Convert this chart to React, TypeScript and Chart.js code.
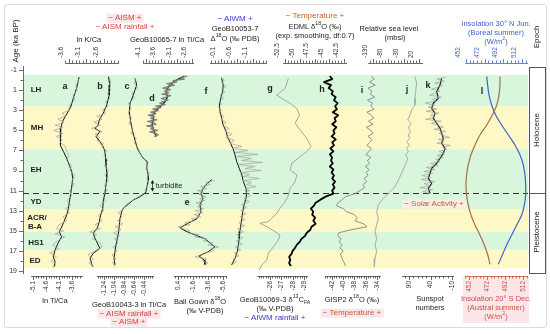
import React, { useEffect, useRef } from "react";
import { Chart, registerables } from "chart.js";
Chart.register(...registerables);

const FONT = '"Liberation Sans", Arial, Helvetica, sans-serif';
const W = 550, H = 334;
const PLOT_TOP = 63, PLOT_BOTTOM = 276;
const AGE_MIN = -1.7, AGE_MAX = 19.5;
const BG_TOP = 66, BG_BOTTOM = 273, BG_AGE_MIN = -1.4, BG_AGE_MAX = 19.2;
const BG_LEFT = 23, BG_RIGHT = 528;
const AXIS_H = 24;

// ---------- age axis & stages ----------
const ageTicks = [-1, 0, 1, 2, 3, 4, 5, 6, 7, 8, 9, 10, 11, 12, 13, 14, 15, 16, 17, 18, 19];
const ageLabels = [-1, 1, 3, 5, 7, 9, 11, 13, 15, 17, 19];
const bandStart = [-0.5, 2.6, 6.9, 12.85, 15.1, 16.9];
const bandEnd = [2.6, 6.9, 12.85, 15.1, 16.9, 18.75];
const bandKind = ["g", "y", "g", "y", "g", "y"];
const boundaryAge = 11.25;
const turbiditeAges = [9.95, 11.1];
const epochBox = [-1.3, 19.2];

// ---------- a: ln Ti/Ca (bottom) ----------
const aAge = [-0.3, 0.8, 1.8, 2.7, 3.5, 4.1, 4.8, 5.6, 6.5, 7.1, 7.8, 8.5, 9.1, 9.8, 10.4, 11.3, 12.1, 12.8, 13.4, 14.1, 14.8, 15.1, 15.6, 16.2, 16.9, 17.6, 18.1, 18.6];
const aVal = [-3.33, -3.42, -3.55, -3.65, -3.83, -3.96, -4.03, -4.06, -4.03, -3.93, -3.8, -3.7, -3.61, -3.57, -3.6, -3.65, -3.7, -3.74, -3.8, -3.91, -4.03, -4.09, -4.0, -4.13, -4.25, -4.32, -4.25, -4.29];
const aRawAge = [-0.3, 0.2, 0.6, 1.0, 1.5, 2.0, 2.5, 3.0, 3.3, 3.6, 3.9, 4.2, 4.5, 4.7, 5.0, 5.3, 5.6, 5.9, 6.2, 6.6, 7.0, 7.5, 8.0, 8.5, 9.0, 9.5, 10.0, 10.5, 11.0, 11.5, 12.0, 12.4, 12.8, 13.2, 13.6, 14.0, 14.4, 14.8, 15.0, 15.3, 15.6, 16.0, 16.4, 16.8, 17.2, 17.6, 18.0, 18.4, 18.6];
const aRawVal = [-3.3, -3.38, -3.45, -3.4, -3.55, -3.5, -3.7, -3.72, -3.98, -3.85, -4.15, -3.9, -4.25, -3.95, -4.3, -3.95, -4.2, -3.98, -4.05, -3.85, -3.82, -3.72, -3.8, -3.62, -3.68, -3.5, -3.6, -3.52, -3.7, -3.62, -3.8, -3.65, -3.85, -3.7, -3.95, -3.8, -4.1, -4.2, -3.92, -4.25, -3.88, -4.15, -4.35, -4.1, -4.45, -4.2, -4.4, -4.22, -4.35];

// ---------- b: ln K/Ca (top) ----------
const bAge = [-0.34, 0.49, 1.49, 2.48, 3.31, 3.97, 4.47, 4.8, 5.13, 5.63, 6.13, 6.63, 7.12, 7.79, 8.45, 9.11, 9.78, 10.44, 11.27, 12.1, 12.76, 13.43, 14.09, 14.75, 15.25, 15.75, 16.41, 16.74, 17.24, 17.74, 18.23, 18.57];
const bVal = [-2.47, -2.43, -2.45, -2.52, -2.62, -2.73, -2.76, -2.85, -2.71, -2.82, -2.71, -2.62, -2.57, -2.55, -2.54, -2.52, -2.52, -2.54, -2.57, -2.62, -2.63, -2.69, -2.73, -2.79, -2.9, -2.85, -2.76, -2.71, -2.9, -2.99, -2.95, -2.92];
const bRawAge = [-0.3, 0.2, 0.6, 1.0, 1.4, 1.8, 2.2, 2.6, 3.0, 3.3, 3.6, 3.9, 4.2, 4.5, 4.8, 5.1, 5.4, 5.7, 6.0, 6.3, 6.7, 7.0, 7.5, 8.0, 8.5, 9.0, 9.5, 10.0, 10.5, 11.0, 11.5, 12.0, 12.5, 13.0, 13.5, 14.0, 14.4, 14.8, 15.1, 15.4, 15.8, 16.2, 16.6, 17.0, 17.4, 17.8, 18.2, 18.6];
const bRawVal = [-2.45, -2.4, -2.48, -2.4, -2.5, -2.42, -2.55, -2.48, -2.65, -2.55, -2.8, -2.65, -2.88, -2.7, -2.95, -2.65, -2.85, -2.72, -2.8, -2.62, -2.66, -2.52, -2.6, -2.5, -2.58, -2.48, -2.56, -2.47, -2.58, -2.52, -2.62, -2.55, -2.7, -2.6, -2.75, -2.65, -2.85, -2.7, -3.0, -2.8, -2.92, -2.7, -2.65, -2.85, -3.05, -2.9, -3.02, -2.88];

// ---------- c: GeoB10043-3 ln Ti/Ca (bottom) ----------
const cAge = [-0.17, 0.49, 1.49, 2.31, 3.14, 4.14, 5.13, 5.96, 6.79, 7.29, 7.79, 8.12, 8.78, 9.45, 9.94, 10.44, 11.1, 11.27, 11.6, 11.93, 12.43, 12.76, 13.09, 13.76, 14.42, 15.08, 15.75, 16.41, 17.07, 17.74, 18.4];
const cVal = [-0.62, -0.586, -0.654, -0.72, -0.734, -0.706, -0.666, -0.62, -0.574, -0.52, -0.454, -0.374, -0.386, -0.354, -0.354, -0.374, -0.4, -0.42, -0.52, -0.654, -0.774, -0.854, -0.886, -0.92, -0.934, -0.946, -0.974, -1.0, -1.02, -1.04, -1.02];
const cRawAge = [-0.2, 0.3, 0.8, 1.3, 1.8, 2.3, 2.8, 3.3, 3.8, 4.3, 4.8, 5.3, 5.8, 6.3, 6.8, 7.3, 7.8, 8.3, 8.8, 9.3, 9.8, 10.3, 10.8, 11.2, 11.6, 12.0, 12.4, 12.8, 13.2, 13.6, 14.0, 14.3, 14.6, 14.9, 15.2, 15.5, 15.8, 16.2, 16.6, 17.0, 17.4, 17.8, 18.2, 18.6];
const cRawVal = [-0.6, -0.63, -0.57, -0.68, -0.63, -0.75, -0.7, -0.76, -0.69, -0.74, -0.66, -0.7, -0.6, -0.63, -0.55, -0.53, -0.44, -0.38, -0.4, -0.34, -0.37, -0.35, -0.4, -0.42, -0.55, -0.68, -0.8, -0.84, -0.95, -0.88, -0.97, -0.86, -1.02, -0.9, -1.05, -0.93, -1.03, -0.96, -1.06, -0.98, -1.08, -1.0, -1.07, -1.01];

// ---------- d: GeoB10065-7 ln Ti/Ca (top) ----------
const dAge = [-0.4, -0.01, 0.32, 0.66, 1.15, 1.65, 2.15, 2.48, 2.81, 3.14, 3.48, 3.97, 4.47, 4.97, 5.3, 5.63];
const dVal = [-2.85, -3.1, -3.26, -3.37, -3.45, -3.4, -3.48, -3.59, -3.7, -3.81, -3.88, -3.86, -3.91, -3.86, -3.81, -3.77];
const dRawAge = [-0.4, -0.25, -0.1, 0.05, 0.2, 0.35, 0.5, 0.65, 0.8, 0.95, 1.1, 1.25, 1.4, 1.55, 1.7, 1.85, 2.0, 2.15, 2.3, 2.45, 2.6, 2.75, 2.9, 3.05, 3.2, 3.35, 3.5, 3.65, 3.8, 3.95, 4.1, 4.25, 4.4, 4.55, 4.7, 4.85, 5.0, 5.15, 5.3, 5.45, 5.6];
const dRawVal = [-2.75, -3.0, -2.85, -3.22, -3.1, -3.42, -3.18, -3.38, -3.55, -3.3, -3.5, -3.36, -3.58, -3.3, -3.45, -3.6, -3.38, -3.55, -3.65, -3.48, -3.78, -3.62, -3.88, -3.7, -3.95, -3.78, -4.02, -3.82, -3.95, -3.75, -4.05, -3.85, -3.78, -4.08, -3.85, -3.95, -3.72, -3.98, -3.8, -3.7, -3.84];

// ---------- e: Bali Gown d18O (bottom) ----------
const eAge = [9.9, 10.3, 10.8, 11.3, 11.8, 12.4, 13.1, 13.8, 14.25, 14.7, 15.1, 15.4, 15.8, 16.2, 16.6, 17.1, 17.5, 17.9, 18.4];
const eVal = [-4.13, -3.47, -2.93, -2.67, -2.93, -2.53, -2.67, -2.13, -0.93, 0.13, -0.8, -1.87, -3.2, -3.87, -4.53, -3.6, -2.4, -3.07, -3.2];
const eRawAge = [10.0, 10.2, 10.4, 10.6, 10.8, 11.0, 11.2, 11.4, 11.6, 11.8, 12.0, 12.2, 12.4, 12.6, 12.8, 13.0, 13.2, 13.4, 13.6, 13.8, 14.0, 14.2, 14.4, 14.6, 14.8, 15.0, 15.2, 15.4, 15.6, 15.8, 16.0, 16.2, 16.4, 16.6, 16.8, 17.0, 17.2, 17.4, 17.6, 17.8, 18.0, 18.2, 18.4];
const eRawVal = [-4.5, -3.3, -3.9, -2.6, -3.4, -2.2, -3.0, -2.4, -3.3, -2.5, -3.2, -2.0, -2.9, -2.2, -3.0, -1.9, -2.9, -1.8, -2.6, -1.4, -1.9, -0.5, -1.2, 0.4, -0.3, -1.2, -0.8, -2.4, -1.8, -3.4, -3.0, -4.2, -3.6, -5.0, -4.1, -4.4, -3.2, -2.6, -1.9, -3.4, -2.8, -3.6, -3.0];

// ---------- f: GeoB10053-7 d18O (top) ----------
const fAge = [-0.17, 0.49, 1.15, 1.82, 2.48, 3.14, 3.81, 4.47, 5.13, 5.63, 6.29, 6.96, 7.46, 8.12, 8.78, 9.45, 10.11, 10.77, 11.27, 11.77, 12.43, 13.09, 13.76, 14.42, 15.08, 15.75, 16.41, 17.07, 17.74, 18.4];
const fVal = [-0.12, -0.17, -0.15, -0.09, -0.05, -0.07, -0.12, -0.17, -0.26, -0.3, -0.4, -0.49, -0.54, -0.59, -0.67, -0.75, -0.8, -0.88, -0.9, -0.88, -0.82, -0.78, -0.75, -0.72, -0.69, -0.67, -0.64, -0.61, -0.54, -0.43];
const fRawAge = [-0.3, 0.0, 0.3, 0.6, 0.9, 1.2, 1.5, 1.8, 2.1, 2.4, 2.7, 3.0, 3.3, 3.6, 3.9, 4.2, 4.5, 4.8, 5.1, 5.4, 5.7, 6.0, 6.3, 6.6, 6.8, 7.0, 7.2, 7.4, 7.6, 7.8, 8.0, 8.2, 8.4, 8.6, 8.8, 9.0, 9.2, 9.4, 9.6, 9.8, 10.0, 10.2, 10.4, 10.6, 10.8, 11.0, 11.2, 11.5, 11.8, 12.1, 12.4, 12.7, 13.0, 13.3, 13.6, 13.9, 14.2, 14.5, 14.8, 15.1, 15.4, 15.7, 16.0, 16.3, 16.6, 16.9, 17.2, 17.5, 17.8, 18.1, 18.4];
const fRawVal = [-0.1, -0.2, -0.12, -0.26, -0.15, -0.22, -0.08, -0.18, -0.04, -0.12, -0.02, -0.1, -0.05, -0.2, -0.1, -0.26, -0.14, -0.35, -0.22, -0.45, -0.25, -0.52, -0.38, -0.75, -0.45, -0.95, -0.55, -1.25, -0.6, -1.05, -0.75, -1.4, -0.62, -1.15, -0.85, -1.35, -0.7, -1.0, -0.8, -1.3, -0.78, -1.05, -0.9, -1.2, -0.85, -1.0, -0.88, -1.02, -0.82, -0.98, -0.74, -0.9, -0.72, -0.88, -0.7, -0.85, -0.66, -0.84, -0.62, -0.8, -0.6, -0.78, -0.58, -0.76, -0.55, -0.72, -0.52, -0.66, -0.48, -0.58, -0.42];

// ---------- g: GeoB10069-3 d13C (bottom) ----------
const gAge = [-0.17, 0.82, 1.49, 1.82, 2.31, 2.81, 3.48, 4.3, 4.97, 5.8, 6.63, 7.12, 7.62, 8.28, 8.95, 9.45, 10.11, 10.77, 11.44, 12.1, 12.76, 13.26, 13.76, 14.09, 14.25, 14.59, 15.08, 15.42, 15.91, 16.58, 17.24, 17.9, 18.4, 18.9];
const gVal = [-27.62, -27.33, -26.59, -27.03, -27.77, -28.36, -28.6, -28.21, -28.65, -29.24, -29.6, -29.24, -28.65, -27.92, -27.77, -28.36, -28.21, -27.77, -27.62, -27.33, -26.88, -26.59, -26.15, -25.85, -25.12, -25.71, -26.44, -26.88, -26.74, -26.3, -25.85, -25.71, -25.27, -25.05];

// ---------- h: EDML d18O (top) ----------
const hAge = [-0.4, -0.1, 0.2, 0.5, 0.8, 1.1, 1.4, 1.7, 2.0, 2.3, 2.6, 2.9, 3.2, 3.5, 3.8, 4.1, 4.4, 4.7, 5.0, 5.3, 5.6, 5.9, 6.2, 6.5, 6.8, 7.1, 7.4, 7.7, 8.0, 8.3, 8.6, 8.9, 9.2, 9.5, 9.8, 10.1, 10.4, 10.7, 11.0, 11.3, 11.6, 11.9, 12.2, 12.5, 12.8, 13.1, 13.4, 13.7, 14.0, 14.3, 14.6, 14.9, 15.2, 15.5, 15.8, 16.1, 16.4, 16.7, 17.0, 17.3, 17.6, 17.9, 18.2, 18.5];
const hVal = [-44.9, -44.5, -45.9, -44.7, -45.1, -44.4, -44.6, -43.9, -44.2, -43.6, -44.0, -43.7, -44.4, -43.5, -44.1, -43.9, -44.5, -43.8, -44.3, -44.1, -44.6, -43.9, -44.5, -44.2, -44.8, -44.3, -44.9, -44.5, -44.7, -44.4, -44.9, -44.3, -44.6, -44.2, -44.5, -44.0, -44.4, -44.1, -44.5, -44.3, -45.6, -46.5, -47.3, -47.6, -48.1, -47.7, -47.9, -47.4, -47.7, -47.3, -48.0, -48.2, -48.8, -49.1, -49.7, -50.0, -50.5, -50.8, -51.2, -51.4, -51.8, -51.6, -51.8, -51.5];

// ---------- i: GISP2 d18O (bottom) ----------
const iAge = hAge;
const iVal = [-35.0, -34.5, -35.3, -34.3, -35.6, -34.9, -35.2, -34.4, -35.7, -34.8, -35.1, -34.5, -35.8, -35.0, -34.6, -35.5, -34.7, -35.9, -35.1, -34.7, -35.6, -34.9, -35.3, -35.8, -35.0, -35.4, -36.0, -35.1, -35.7, -35.3, -36.1, -35.4, -35.9, -35.6, -36.3, -35.8, -36.5, -36.2, -37.0, -37.9, -39.6, -40.2, -40.9, -41.2, -40.0, -39.4, -38.0, -37.5, -37.9, -36.4, -35.8, -38.6, -40.8, -41.0, -40.4, -40.7, -40.2, -40.6, -40.0, -40.5, -40.3, -40.1, -39.8, -39.6];

// ---------- j: relative sea level (top) ----------
const jAge = [-0.34, 0.32, 1.15, 1.82, 2.48, 2.98, 3.48, 3.97, 4.3, 4.8, 5.13, 5.47, 5.8, 6.13, 6.46, 6.79, 7.12, 7.46, 7.79, 8.12, 8.62, 9.28, 9.94, 10.61, 11.27, 11.77, 12.43, 13.09, 13.76, 14.42, 15.08, 15.75, 16.41, 17.07, 17.74, 18.57];
const jVal = [6.9, 12.4, 9.1, 6.9, 6.9, -3.9, -9.4, -17, -6.1, -14.8, -7.2, -14.8, -10.4, -20.2, -11.5, -20.2, -14.8, -23.5, -17, -20.2, -27.8, -36.5, -47.4, -58.3, -80, -96.3, -112.6, -118, -112.6, -118, -123.5, -118, -123.5, -118, -123.5, -125.7];

// ---------- k: sunspot numbers (bottom) ----------
const kAge = [-0.17, 0.49, 1.15, 1.82, 2.31, 2.81, 3.31, 3.81, 4.3, 4.8, 5.3, 5.8, 6.29, 6.79, 7.29, 7.79, 8.28, 8.78, 9.28, 9.78, 10.27, 10.77, 11.27];
const kVal = [14, 17.9, 25.6, 21.9, 33.5, 37.2, 29.5, 33.5, 25.6, 17.9, 14, 10.2, 14, 6.3, 10.2, 17.9, 25.6, 37.2, 41.2, 45.1, 37.2, 45.1, 41.2];
const kRawAge = [-0.3, -0.1, 0.1, 0.3, 0.5, 0.7, 0.9, 1.1, 1.3, 1.5, 1.7, 1.9, 2.1, 2.3, 2.5, 2.7, 2.9, 3.1, 3.3, 3.5, 3.7, 3.9, 4.1, 4.3, 4.5, 4.7, 4.9, 5.1, 5.3, 5.5, 5.7, 5.9, 6.1, 6.3, 6.5, 6.7, 6.9, 7.1, 7.3, 7.5, 7.7, 7.9, 8.1, 8.3, 8.5, 8.7, 8.9, 9.1, 9.3, 9.5, 9.7, 9.9, 10.1, 10.3, 10.5, 10.7, 10.9, 11.1, 11.3];
const kRawVal = [5, 25, 8, 30, 12, 22, 38, 18, 30, 42, 15, 35, 28, 52, 30, 45, 25, 50, 20, 40, 30, 52, 15, 38, 22, 10, 32, 5, 20, 12, -4, 22, 8, 25, -6, 12, 2, 20, 8, 25, 10, 28, 18, 40, 22, 50, 30, 55, 35, 60, 40, 62, 30, 55, 42, 65, 35, 58, 40];

// ---------- l: insolation ----------
const lAge = [-0.34, 0.49, 1.49, 2.48, 3.48, 4.47, 5.47, 6.46, 7.46, 8.45, 9.45, 10.44, 11.44, 12.43, 13.43, 14.42, 15.42, 16.41, 17.41, 18.33];
const insN30Jun = [474.2, 475.2, 476.7, 479.5, 483.8, 490.2, 497.4, 504.5, 509.9, 513.4, 515.2, 515.9, 515.9, 514.5, 511.7, 506.3, 501.0, 495.6, 490.9, 486.6];
const insS20Dec = [486.4, 486.4, 485.3, 482.8, 477.9, 471.7, 464.2, 458.7, 454.2, 451.2, 449.4, 448.7, 449.4, 451.2, 454.2, 458.7, 464.2, 469.0, 472.9, 475.3];

// ---------- tick labels ----------
const kcaTicks = [-3.6, -3.1, -2.6];
const g65Ticks = [-4.1, -3.6, -3.1, -2.6];
const g53Ticks = [-0.1, -0.6, -1.1];
const edmlTicks = [-52.5, -50, -47.5, -45, -42.5];
const rslTicks = [-130, -80, -30, 20];
const insTicks = [452, 472, 492, 512];
const ticaTicks = [-5.1, -4.6, -4.1, -3.6];
const g43Ticks = [-1.24, -1.04, -0.84, -0.64, -0.44];
const baliTicks = [0.4, -1.6, -3.6, -5.6];
const g69Ticks = [-26, -27, -28, -29];
const gispTicks = [-42, -40, -38, -36, -34];
const sunTicks = [90, 40, -10];

const BLACK = "#111";
const GRAY = "#a0a0a0";
const AX = "#444";
const RED = "#d2453c";
const BLUE = "#3a3ac8";
const TEMP = "#c4622d";
const INS_BLUE = "#3f63c9";
const INS_RED = "#c9503f";
const PINK = "#fde6ea";

type Ser = { ages: number[]; vals: number[]; color: string; width: number; tension?: number };
type Panel = {
  pos: "top" | "bottom"; left: number; right: number; min: number; max: number; reverse?: boolean;
  majors: number[]; step: number; axisColor: string; labelColor: string; series: Ser[];
};

const panels: Panel[] = [
  { pos: "bottom", left: 31, right: 82, min: -5.177, max: -3.215, majors: ticaTicks, step: 0.1, axisColor: AX, labelColor: "#333",
    series: [{ ages: aRawAge, vals: aRawVal, color: GRAY, width: 0.7 }, { ages: aAge, vals: aVal, color: BLACK, width: 1 }] },
  { pos: "top", left: 65, right: 118, min: -3.7, max: -2.2, majors: kcaTicks, step: 0.1, axisColor: AX, labelColor: "#333",
    series: [{ ages: bRawAge, vals: bRawVal, color: GRAY, width: 0.7 }, { ages: bAge, vals: bVal, color: BLACK, width: 1 }] },
  { pos: "bottom", left: 97, right: 153, min: -1.38, max: -0.26, majors: g43Ticks, step: 0.04, axisColor: AX, labelColor: "#333",
    series: [{ ages: cRawAge, vals: cRawVal, color: GRAY, width: 0.7 }, { ages: cAge, vals: cVal, color: BLACK, width: 1 }] },
  { pos: "top", left: 143, right: 193, min: -4.2, max: -2.57, majors: g65Ticks, step: 0.1, axisColor: AX, labelColor: "#333",
    series: [{ ages: dRawAge, vals: dRawVal, color: "#808080", width: 1.3 }, { ages: dAge, vals: dVal, color: BLACK, width: 1.3 }] },
  { pos: "bottom", left: 174, right: 226, min: -6.0, max: 0.933, reverse: true, majors: baliTicks, step: 0.4, axisColor: AX, labelColor: "#333",
    series: [{ ages: eRawAge, vals: eRawVal, color: GRAY, width: 0.7 }, { ages: eAge, vals: eVal, color: BLACK, width: 1 }] },
  { pos: "top", left: 210, right: 266, min: -1.506, max: 0.244, reverse: true, majors: g53Ticks, step: 0.1, axisColor: AX, labelColor: "#333",
    series: [{ ages: fRawAge, vals: fRawVal, color: GRAY, width: 0.7 }, { ages: fAge, vals: fVal, color: BLACK, width: 1 }] },
  { pos: "bottom", left: 257, right: 307, min: -29.26, max: -24.85, reverse: true, majors: g69Ticks, step: 0.2, axisColor: AX, labelColor: "#333",
    series: [{ ages: gAge, vals: gVal, color: "#a4a4a4", width: 1 }] },
  { pos: "top", left: 283, right: 346, min: -52.84, max: -42.16, majors: edmlTicks, step: 0.5, axisColor: AX, labelColor: "#333",
    series: [{ ages: hAge, vals: hVal, color: "#000", width: 1.8 }] },
  { pos: "bottom", left: 325, right: 380, min: -43.24, max: -33.47, majors: gispTicks, step: 0.4, axisColor: AX, labelColor: "#333",
    series: [{ ages: iAge, vals: iVal, color: "#8f8f8f", width: 1 }] },
  { pos: "top", left: 368, right: 422, min: -146.3, max: 29.8, majors: rslTicks, step: 10, axisColor: AX, labelColor: "#333",
    series: [{ ages: jAge, vals: jVal, color: "#a8a8a8", width: 1 }] },
  { pos: "bottom", left: 402, right: 453, min: -12.3, max: 106.3, reverse: true, majors: sunTicks, step: 10, axisColor: AX, labelColor: "#333",
    series: [{ ages: kRawAge, vals: kRawVal, color: GRAY, width: 0.7 }, { ages: kAge, vals: kVal, color: BLACK, width: 1.2 }] },
  { pos: "top", left: 465, right: 527, min: 450.93, max: 517.36, majors: insTicks, step: 4, axisColor: INS_BLUE, labelColor: INS_BLUE,
    series: [{ ages: lAge, vals: insN30Jun, color: INS_BLUE, width: 1.2, tension: 0.4 }] },
  { pos: "bottom", left: 465, right: 527, min: 447.6, max: 516.4, majors: insTicks, step: 4, axisColor: INS_RED, labelColor: INS_RED,
    series: [{ ages: lAge, vals: insS20Dec, color: "#a8703f", width: 1.2, tension: 0.4 }] },
];

function buildTicks(p: Panel): number[] {
  const out: number[] = [];
  const base = p.majors[0];
  const lo = Math.min(p.min, p.max), hi = Math.max(p.min, p.max);
  const nLo = Math.ceil((lo - base) / p.step - 1e-9);
  const nHi = Math.floor((hi - base) / p.step + 1e-9);
  for (let k = nLo; k <= nHi; k++) out.push(Math.round((base + k * p.step) * 1e6) / 1e6);
  return out;
}

const canvasStyle: React.CSSProperties = { position: "absolute", left: 0, top: 0, width: W, height: H };

function PanelChart({ p }: { p: Panel }) {
  const ref = useRef<HTMLCanvasElement>(null);
  useEffect(() => {
    const ticks = buildTicks(p);
    const findMajor = (v: number) => p.majors.find((m) => Math.abs(m - v) < 1e-6);
    const tickPlugin = {
      id: "tickmarks",
      afterDraw(chart: any) {
        const s = chart.scales.x;
        const ctx = chart.ctx;
        const y0 = p.pos === "top" ? chart.chartArea.top : chart.chartArea.bottom;
        const dir = p.pos === "top" ? -1 : 1;
        ctx.save();
        ctx.strokeStyle = p.axisColor;
        ctx.lineWidth = 0.8;
        for (const v of ticks) {
          const x = Math.round(s.getPixelForValue(v)) + 0.5;
          const len = findMajor(v) !== undefined ? 4 : 2.5;
          ctx.beginPath();
          ctx.moveTo(x, y0);
          ctx.lineTo(x, y0 + dir * len);
          ctx.stroke();
        }
        ctx.restore();
      },
    };
    const chart = new Chart(ref.current as HTMLCanvasElement, {
      type: "scatter",
      data: {
        datasets: p.series.map((s) => ({
          data: s.ages.map((a, i) => ({ x: s.vals[i], y: a })),
          showLine: true,
          borderColor: s.color,
          backgroundColor: s.color,
          borderWidth: s.width,
          borderJoinStyle: "round",
          pointRadius: 0,
          tension: s.tension || 0,
          clip: false as any,
        })),
      },
      options: {
        animation: false,
        responsive: false,
        devicePixelRatio: 1,
        events: [],
        plugins: { legend: { display: false }, tooltip: { enabled: false } },
        layout: {
          padding: {
            left: p.left,
            right: W - p.right,
            top: p.pos === "top" ? PLOT_TOP - AXIS_H : PLOT_TOP,
            bottom: p.pos === "bottom" ? H - PLOT_BOTTOM - AXIS_H : H - PLOT_BOTTOM,
          },
        },
        scales: {
          x: {
            type: "linear",
            position: p.pos,
            min: p.min,
            max: p.max,
            reverse: !!p.reverse,
            afterBuildTicks: (s: any) => { s.ticks = ticks.map((v) => ({ value: v })); },
            afterFit: (s: any) => { s.height = AXIS_H; },
            ticks: {
              autoSkip: false,
              minRotation: 90,
              maxRotation: 90,
              padding: 1,
              color: p.labelColor,
              font: { size: 6.5, family: FONT },
              callback: (v: any) => { const m = findMajor(Number(v)); return m === undefined ? "" : String(m); },
            },
            grid: { drawOnChartArea: false, drawTicks: true, tickLength: 4, color: "rgba(0,0,0,0)" },
            border: { display: true, color: p.axisColor, width: 0.8 },
          },
          y: { type: "linear", display: false, min: AGE_MIN, max: AGE_MAX, reverse: true },
        },
      } as any,
      plugins: [tickPlugin],
    });
    return () => chart.destroy();
  }, []);
  return <canvas ref={ref} width={W} height={H} style={canvasStyle} />;
}

function BackgroundChart() {
  const ref = useRef<HTMLCanvasElement>(null);
  useEffect(() => {
    const bgPlugin = {
      id: "bg",
      beforeDraw(chart: any) {
        const { ctx, chartArea: ca, scales } = chart;
        const y = scales.y;
        ctx.save();
        for (let i = 0; i < bandStart.length; i++) {
          const y1 = y.getPixelForValue(bandStart[i]);
          const y2 = y.getPixelForValue(bandEnd[i]);
          ctx.fillStyle = bandKind[i] === "g" ? "#d8f6dc" : "#fdf8c6";
          ctx.fillRect(ca.left + 1, y1, ca.right - ca.left - 1, y2 - y1);
        }
        ctx.restore();
      },
      afterDraw(chart: any) {
        const { ctx, chartArea: ca, scales } = chart;
        const y = scales.y;
        ctx.save();
        ctx.strokeStyle = "#444";
        ctx.lineWidth = 0.8;
        for (const v of ageTicks) {
          const py = Math.round(y.getPixelForValue(v)) + 0.5;
          const len = ageLabels.includes(v) ? 4 : 2.5;
          ctx.beginPath();
          ctx.moveTo(ca.left, py);
          ctx.lineTo(ca.left - len, py);
          ctx.stroke();
        }
        const by = Math.round(y.getPixelForValue(boundaryAge)) + 0.5;
        ctx.strokeStyle = "#333";
        ctx.lineWidth = 1;
        ctx.setLineDash([6, 4]);
        ctx.beginPath();
        ctx.moveTo(ca.left, by);
        ctx.lineTo(ca.right, by);
        ctx.stroke();
        ctx.setLineDash([]);
        const ty = y.getPixelForValue(epochBox[0]);
        const bb = y.getPixelForValue(epochBox[1]);
        ctx.strokeStyle = "#555";
        ctx.strokeRect(ca.right + 1.5, Math.round(ty) + 0.5, 16, Math.round(bb - ty));
        ctx.beginPath();
        ctx.moveTo(ca.right + 1.5, by);
        ctx.lineTo(ca.right + 17.5, by);
        ctx.stroke();
        const ax = 152.5;
        const a1 = y.getPixelForValue(turbiditeAges[0]);
        const a2 = y.getPixelForValue(turbiditeAges[1]);
        ctx.strokeStyle = "#222";
        ctx.fillStyle = "#222";
        ctx.lineWidth = 0.8;
        ctx.beginPath();
        ctx.moveTo(ax, a1 + 2);
        ctx.lineTo(ax, a2 - 2);
        ctx.stroke();
        ctx.beginPath();
        ctx.moveTo(ax, a1); ctx.lineTo(ax - 2, a1 + 3.5); ctx.lineTo(ax + 2, a1 + 3.5); ctx.closePath(); ctx.fill();
        ctx.beginPath();
        ctx.moveTo(ax, a2); ctx.lineTo(ax - 2, a2 - 3.5); ctx.lineTo(ax + 2, a2 - 3.5); ctx.closePath(); ctx.fill();
        ctx.restore();
      },
    };
    const chart = new Chart(ref.current as HTMLCanvasElement, {
      type: "scatter",
      data: { datasets: [] },
      options: {
        animation: false,
        responsive: false,
        devicePixelRatio: 1,
        events: [],
        plugins: { legend: { display: false }, tooltip: { enabled: false } },
        layout: { padding: { left: BG_LEFT - 15, right: W - BG_RIGHT, top: BG_TOP, bottom: H - BG_BOTTOM } },
        scales: {
          x: { type: "linear", display: false, min: 0, max: 1 },
          y: {
            type: "linear",
            position: "left",
            min: BG_AGE_MIN,
            max: BG_AGE_MAX,
            reverse: true,
            afterBuildTicks: (s: any) => { s.ticks = ageTicks.map((v) => ({ value: v })); },
            afterFit: (s: any) => { s.width = 15; },
            ticks: {
              autoSkip: false,
              padding: 2,
              color: "#333",
              font: { size: 7, family: FONT },
              callback: (v: any) => (ageLabels.includes(Number(v)) ? String(v) : ""),
            },
            grid: { drawOnChartArea: false, drawTicks: true, tickLength: 4, color: "rgba(0,0,0,0)" },
            border: { display: true, color: "#444", width: 0.8 },
          },
        },
      } as any,
      plugins: [bgPlugin],
    });
    return () => chart.destroy();
  }, []);
  return <canvas ref={ref} width={W} height={H} style={canvasStyle} />;
}

function T(props: { x: number; y: number; children: React.ReactNode; color?: string; size?: number; bold?: boolean; bg?: string; rot?: boolean }) {
  const { x, y, children, color = "#222", size = 7.5, bold = false, bg, rot = false } = props;
  return (
    <div
      style={{
        position: "absolute", left: x, top: y,
        transform: `translate(-50%, -50%)${rot ? " rotate(-90deg)" : ""}`,
        whiteSpace: "nowrap", fontFamily: FONT, fontSize: size, color,
        fontWeight: bold ? 700 : 400, background: bg, lineHeight: 1.1, padding: bg ? "0 2px" : 0,
      }}
    >
      {children}
    </div>
  );
}

const sup = (s: string) => <sup style={{ fontSize: "0.7em", verticalAlign: "super", lineHeight: 0 }}>{s}</sup>;
const sub = (s: string) => <sub style={{ fontSize: "0.7em", verticalAlign: "sub", lineHeight: 0 }}>{s}</sub>;

export default function App() {
  return (
    <div style={{ position: "absolute", left: 0, top: 0, width: W, height: H, background: "#fff", overflow: "hidden" }}>
      <div style={{ position: "absolute", left: 4, top: 4, width: 541, height: 322, border: "1px solid #dcdcdc", borderRadius: 3 }} />
      <div style={{ position: "absolute", left: 463, top: 277, width: 66, height: 46, background: PINK }} />
      <BackgroundChart />
      {panels.map((p, i) => <PanelChart key={i} p={p} />)}

      <T x={16} y={41} rot size={8}>Age (ka BP)</T>
      <T x={537} y={37} rot size={8}>Epoch</T>
      <T x={537} y={130} rot size={8}>Holocene</T>
      <T x={537} y={232} rot size={8}>Pleistocene</T>

      <T x={125} y={18} color={RED} size={8} bg={PINK}>− AISM +</T>
      <T x={125} y={27} color={RED} size={8}>− AISM rainfall +</T>
      <T x={89} y={40}>ln K/Ca</T>
      <T x={167} y={40}>GeoB10065-7 ln Ti/Ca</T>
      <T x={235} y={19} color={BLUE} size={8}>− AIWM +</T>
      <T x={235} y={29}>GeoB10053-7</T>
      <T x={235} y={39}>Δ{sup("18")}O (‰ PDB)</T>
      <T x={315} y={16} color={TEMP} size={8}>− Temperature +</T>
      <T x={315} y={27}>EDML δ{sup("18")}O (‰)</T>
      <T x={315} y={36}>(exp. smoothing, df:0.7)</T>
      <T x={389} y={29}>Relative sea level</T>
      <T x={395} y={38}>(mbsl)</T>
      <T x={496} y={24} color={INS_BLUE}>Insolation 30° N Jun.</T>
      <T x={496} y={33} color={INS_BLUE}>(Boreal summer)</T>
      <T x={496} y={42} color={INS_BLUE}>(W/m{sup("2")})</T>

      <T x={55} y={301}>ln Ti/Ca</T>
      <T x={129} y={305}>GeoB10043-3 ln Ti/Ca</T>
      <T x={129} y={314} color={RED} size={8} bg={PINK}>− AISM rainfall +</T>
      <T x={129} y={322} color={RED} size={8} bg={PINK}>− AISM +</T>
      <T x={200} y={302}>Bali Gown δ{sup("18")}O</T>
      <T x={205} y={311}>(‰ V-PDB)</T>
      <T x={275} y={300}>GeoB10069-3 δ{sup("13")}C{sub("FA")}</T>
      <T x={275} y={309}>(‰ V-PDB)</T>
      <T x={275} y={318} color={BLUE} size={8}>− AIWM rainfall +</T>
      <T x={352} y={300}>GISP2 δ{sup("18")}O (‰)</T>
      <T x={352} y={313} color={TEMP} size={8} bg={PINK}>− Temperature +</T>
      <T x={430} y={299}>Sunspot</T>
      <T x={430} y={308}>numbers</T>
      <T x={496} y={299} color={INS_RED}>Insolation 20° S Dec.</T>
      <T x={496} y={308} color={INS_RED}>(Austral summer)</T>
      <T x={496} y={317} color={INS_RED}>(W/m{sup("2")})</T>

      <T x={36} y={90} bold size={8}>LH</T>
      <T x={37} y={128} bold size={8}>MH</T>
      <T x={36} y={170} bold size={8}>EH</T>
      <T x={36} y={202} bold size={8}>YD</T>
      <T x={37} y={218} bold size={8}>ACR/</T>
      <T x={35} y={227} bold size={8}>B-A</T>
      <T x={36} y={243} bold size={8}>HS1</T>
      <T x={35} y={261} bold size={8}>ED</T>

      <T x={65} y={87} bold size={9}>a</T>
      <T x={100} y={87} bold size={9}>b</T>
      <T x={127} y={87} bold size={9}>c</T>
      <T x={152} y={99} bold size={9}>d</T>
      <T x={187} y={203} bold size={9}>e</T>
      <T x={206} y={92} bold size={9}>f</T>
      <T x={270} y={89} bold size={9}>g</T>
      <T x={322} y={90} bold size={9}>h</T>
      <T x={362} y={91} bold size={9}>i</T>
      <T x={407} y={90} bold size={9}>j</T>
      <T x={428} y={86} bold size={9}>k</T>
      <T x={482} y={92} bold size={9}>l</T>

      <T x={169} y={186} size={7.5}>turbidite</T>
      <T x={434} y={204} color="#b0692a" size={8} bg="#fbeee6">− Solar Activity +</T>
    </div>
  );
}
